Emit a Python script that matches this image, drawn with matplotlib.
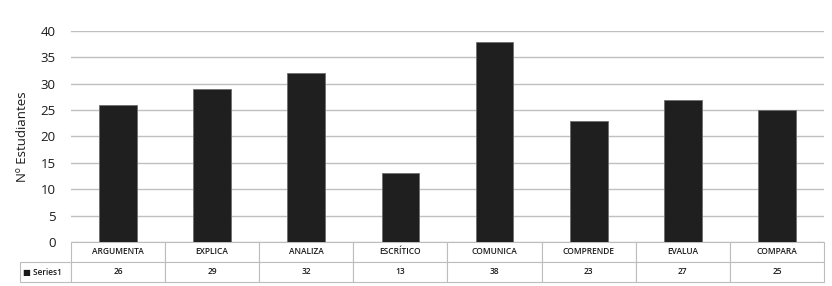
import matplotlib
matplotlib.use("Agg")
import matplotlib.pyplot as plt

# Data
categories = ["ARGUMENTA", "EXPLICA", "ANALIZA", "ESCRÍTICO",
              "COMUNICA", "COMPRENDE", "EVALUA", "COMPARA"]
series1 = [26, 29, 32, 13, 38, 23, 27, 25]
series_name = "Series1"
yticks = [0, 5, 10, 15, 20, 25, 30, 35, 40]

plt.rcParams['font.family'] = ['Open Sans', 'DejaVu Sans']

fig = plt.figure(figsize=(8.32, 2.86), dpi=100)
ax = fig.add_axes([71 / 832, 1 - 242 / 286, 753 / 832, 211 / 286])

x = range(len(categories))
ax.bar(x, series1, width=0.4, color="#1f1f1f", edgecolor="#6e6e6e",
       linewidth=0.6, zorder=3)

ax.set_xlim(-0.5, len(categories) - 0.5)
ax.set_ylim(0, 40)
ax.set_yticks(yticks)
ax.tick_params(axis="y", length=0, labelsize=9.5, pad=11, colors="#1a1a1a")
ax.set_xticks([])
ax.yaxis.grid(True, color="#c0c0c0", linewidth=1.0, zorder=0)
for s in ax.spines.values():
    s.set_visible(False)

ax.set_ylabel("Nº Estudiantes", fontsize=9.5, color="#1a1a1a", labelpad=8)

# Data table below the bars
lab_w = 51 / 753
row_h = 40 / 211
cell_text = [[""] + categories,
             ["■ " + series_name] + [str(v) for v in series1]]
tbl = ax.table(cellText=cell_text,
               colWidths=[lab_w] + [1 / len(categories)] * len(categories),
               cellLoc="center",
               bbox=[-lab_w, -row_h, 1 + lab_w, row_h])
tbl.auto_set_font_size(False)
for (r, c), cell in tbl.get_celld().items():
    cell.set_edgecolor("#bdbdbd")
    cell.set_linewidth(0.8)
    cell.get_text().set_fontsize(6)
    cell.get_text().set_color("#1a1a1a")
    cell.get_text().set_fontweight("semibold")
    if r == 0 and c == 0:
        cell.visible_edges = ""
    if c == 0 and r == 1:
        cell.get_text().set_ha("left")
        cell.PAD = 0.05

fig.savefig("out.png", dpi=100)
